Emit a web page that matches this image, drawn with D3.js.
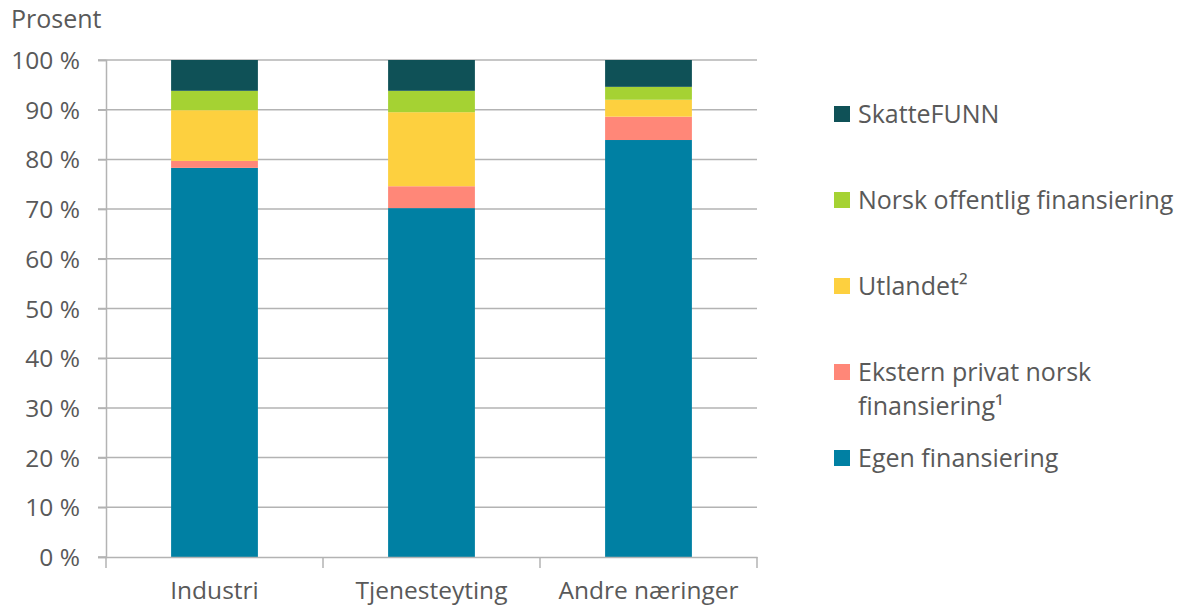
<!DOCTYPE html>
<html><head><meta charset="utf-8">
<script src="https://cdn.jsdelivr.net/npm/d3@7"></script>
<style>body{margin:0;background:#fff}text{font-family:"Open Sans",Lato,sans-serif}</style>
</head><body><svg id="c" width="1178" height="607"></svg>
<script>
const categories = ["Industri", "Tjenesteyting", "Andre næringer"];
const egen      = [78.3, 70.2, 83.9];
const ekstern   = [1.4, 4.4, 4.7];
const utlandet  = [10.2, 14.9, 3.4];
const norskOff  = [3.9, 4.3, 2.6];
const skattefunn= [6.2, 6.2, 5.4];
const yTicks = [0,10,20,30,40,50,60,70,80,90,100];
const seriesNames = ["Egen finansiering","Ekstern privat norsk finansiering¹","Utlandet²","Norsk offentlig finansiering","SkatteFUNN"];
const colors = ["#0080a3","#ff8778","#fdd03f","#a5d233","#0f5157"];
const seriesVals = [egen, ekstern, utlandet, norskOff, skattefunn];

(function(){
const svg = d3.select("#c");
const pLeft=106, pRight=757, pTop=60, pBottom=557;
const x = d3.scaleBand().domain(categories).range([pLeft,pRight]).paddingInner(0.6).paddingOuter(0.3);
const xb = d3.scaleBand().domain(categories).range([pLeft,pRight]);
const y = d3.scaleLinear().domain([0,100]).range([pBottom,pTop]);
const txt="#595959", grid="#b3b3b3";

svg.append("g").selectAll("line").data(yTicks.filter(d=>d>0)).join("line")
  .attr("x1",98).attr("x2",pRight).attr("y1",d=>y(d)).attr("y2",d=>y(d))
  .attr("stroke",grid).attr("stroke-width",1.5);

const ya = svg.append("g").attr("transform",`translate(${pLeft},0)`)
  .call(d3.axisLeft(y).tickValues(yTicks).tickSize(8).tickFormat(d=>d+" %"));
ya.select(".domain").attr("stroke",grid).attr("stroke-width",1.5);
ya.selectAll(".tick line").attr("stroke",grid).attr("stroke-width",1.5);
ya.selectAll("text").attr("fill",txt).attr("font-size",24.5).attr("x",-26).attr("dy","0.35em");

const rows = categories.map((c,i)=>{const o={cat:c}; seriesVals.forEach((s,j)=>o["s"+j]=s[i]); return o;});
const stack = d3.stack().keys(seriesVals.map((_,j)=>"s"+j))(rows);
svg.append("g").selectAll("g").data(stack).join("g").attr("fill",(d,i)=>colors[i])
  .selectAll("rect").data(d=>d).join("rect")
  .attr("x",d=>x(d.data.cat)).attr("width",x.bandwidth())
  .attr("y",d=>y(d[1])).attr("height",d=>y(d[0])-y(d[1]));

const xa = svg.append("g").attr("transform",`translate(0,${pBottom})`)
  .call(d3.axisBottom(xb).tickSize(0).tickFormat(""));
xa.select(".domain").attr("stroke",grid).attr("stroke-width",1.5);
svg.append("line").attr("x1",98).attr("x2",pLeft).attr("y1",pBottom).attr("y2",pBottom).attr("stroke",grid).attr("stroke-width",1.5);
const bounds = categories.map(c=>xb(c)).concat([pRight]);
svg.append("g").selectAll("line").data(bounds).join("line")
  .attr("x1",d=>d).attr("x2",d=>d).attr("y1",pBottom).attr("y2",pBottom+11)
  .attr("stroke",grid).attr("stroke-width",1.5);
svg.append("g").selectAll("text").data(categories).join("text")
  .attr("x",d=>xb(d)+xb.bandwidth()/2).attr("y",599).attr("text-anchor","middle")
  .attr("fill",txt).attr("font-size",24.5).text(d=>d);

svg.append("text").attr("x",11).attr("y",28).attr("fill",txt).attr("font-size",25).text("Prosent");

const legend = [
  {i:4, lines:["SkatteFUNN"], y:114},
  {i:3, lines:["Norsk offentlig finansiering"], y:200},
  {i:2, lines:["Utlandet²"], y:286},
  {i:1, lines:["Ekstern privat norsk","finansiering¹"], y:372},
  {i:0, lines:["Egen finansiering"], y:458}
];
const lg = svg.append("g");
legend.forEach(l=>{
  lg.append("rect").attr("x",834).attr("y",l.y-8).attr("width",16).attr("height",16).attr("fill",colors[l.i]);
  l.lines.forEach((t,k)=>{
    lg.append("text").attr("x",858).attr("y",l.y+k*34).attr("dy","0.35em")
      .attr("fill",txt).attr("font-size",25).text(t);
  });
});
})();
</script></body></html>
